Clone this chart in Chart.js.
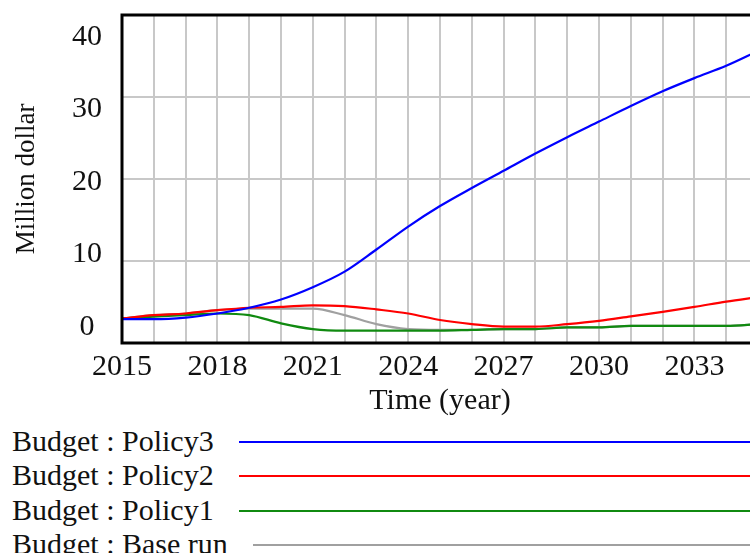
<!DOCTYPE html>
<html>
<head>
<meta charset="utf-8">
<script src="https://cdn.jsdelivr.net/npm/chart.js@4/dist/chart.umd.min.js"></script>
<style>
  html, body { margin: 0; padding: 0; background: #fff; }
  body { width: 750px; height: 553px; overflow: hidden; position: relative; font-family: "Liberation Serif", "Times New Roman", serif; }
  #wrap { position: absolute; left: 0; top: 0; width: 775px; height: 424px; }
  #legend { position: absolute; left: 12px; top: 424px; width: 738px; }
  .row { display: flex; align-items: center; height: 34.3px; font-size: 30px; color: #111; white-space: nowrap; }
  .row .sw { flex: 1; margin-left: 25px; height: 0; border-top: 2px solid; margin-top: 2px; }
</style>
</head>
<body>
<div id="wrap"><canvas id="c" width="775" height="424"></canvas></div>
<div id="legend"></div>
<script>
const years = [2015,2016,2017,2018,2019,2020,2021,2022,2023,2024,2025,2026,2027,2028,2029,2030,2031,2032,2033,2034,2035];
const seriesNames = ["Budget : Policy3", "Budget : Policy2", "Budget : Policy1", "Budget : Base run"];
const policy3 = [2.9,2.9,3.1,3.6,4.3,5.3,6.8,8.7,11.4,14.2,16.7,18.9,21.0,23.1,25.1,27.0,28.9,30.7,32.3,33.8,35.6];
const policy2 = [3.0,3.4,3.6,4.0,4.3,4.4,4.6,4.5,4.1,3.6,2.8,2.3,2.0,2.0,2.3,2.7,3.25,3.8,4.4,5.05,5.6];
const policy1 = [3.0,3.2,3.4,3.6,3.4,2.4,1.7,1.5,1.5,1.5,1.5,1.6,1.7,1.7,1.9,1.9,2.1,2.1,2.1,2.1,2.3];
const baseRun = [3.0,3.4,3.6,4.0,4.2,4.2,4.2,3.4,2.3,1.7,1.6,1.6,1.7,1.7,1.9,1.9,2.1,2.1,2.1,2.1,2.3];
const yTickValues = [0,10,20,30,40];
const xLabelStep = 3;

const colors = ["#0000ff", "#ff0000", "#108a10", "#a0a0a0"];
const allSeries = [policy3, policy2, policy1, baseRun];

const datasets = allSeries.map((vals, i) => ({
  label: seriesNames[i],
  data: vals.map((v, k) => ({x: years[k], y: v})),
  borderColor: colors[i],
  backgroundColor: colors[i],
  borderWidth: 2.2,
  pointRadius: 0,
  cubicInterpolationMode: 'monotone',
  yAxisID: 'y'
}));

const frame = {
  id: 'frame',
  afterDatasetsDraw(chart) {
    const a = chart.chartArea, ctx = chart.ctx;
    ctx.save();
    ctx.strokeStyle = '#000';
    ctx.lineWidth = 3;
    ctx.beginPath();
    ctx.moveTo(a.left, a.bottom);
    ctx.lineTo(a.left, a.top);
    ctx.lineTo(a.right, a.top);
    ctx.moveTo(a.left - 1.5, a.bottom);
    ctx.lineTo(a.right, a.bottom);
    ctx.stroke();
    ctx.restore();
  }
};

const font = "'Liberation Serif', 'Times New Roman', serif";
const noPad = (s) => { s.paddingTop = 0; s.paddingBottom = 0; s.paddingLeft = 0; s.paddingRight = 0; };

new Chart(document.getElementById('c'), {
  type: 'line',
  data: { datasets },
  plugins: [frame],
  options: {
    responsive: false,
    animation: false,
    layout: { padding: { left: 0, right: 17, top: 15, bottom: 0 } },
    plugins: { legend: { display: false }, tooltip: { enabled: false } },
    scales: {
      x: {
        type: 'linear',
        min: years[0],
        max: years[years.length - 1],
        afterFit(s) { s.height = 81; noPad(s); },
        grid: { color: '#c8c8c8', lineWidth: 2, drawTicks: false },
        border: { display: false },
        ticks: {
          stepSize: 1,
          autoSkip: false,
          maxRotation: 0,
          padding: 6,
          color: '#111',
          font: { family: font, size: 30 },
          callback: (v) => ((v - years[0]) % xLabelStep === 0 ? String(v) : '')
        },
        title: { display: true, text: 'Time (year)', color: '#111', font: { family: font, size: 30 }, padding: { top: 0, bottom: 5 } }
      },
      y: {
        type: 'linear',
        position: 'left',
        weight: 0,
        min: 0,
        max: 40,
        afterFit(s) { s.width = 0; noPad(s); },
        grid: { color: '#c8c8c8', lineWidth: 2, drawTicks: false },
        border: { display: false },
        ticks: { display: false, stepSize: 10 }
      },
      yLabels: {
        type: 'linear',
        position: 'left',
        weight: 1,
        min: -2.2,
        max: 43.0,
        afterFit(s) { s.width = 122; noPad(s); },
        afterBuildTicks(s) { s.ticks = yTickValues.map(v => ({ value: v })); },
        grid: { display: false, drawTicks: false },
        border: { display: false },
        ticks: { crossAlign: 'center', padding: 20, color: '#111', font: { family: font, size: 30 }, callback: v => String(v) },
        title: { display: true, text: 'Million dollar', color: '#111', font: { family: font, size: 27 }, padding: { top: 11, bottom: 0 } }
      }
    }
  }
});

const legend = document.getElementById('legend');
seriesNames.forEach((name, i) => {
  const row = document.createElement('div');
  row.className = 'row';
  const t = document.createElement('span');
  t.textContent = name;
  const sw = document.createElement('span');
  sw.className = 'sw';
  sw.style.borderTopColor = colors[i];
  row.appendChild(t);
  row.appendChild(sw);
  legend.appendChild(row);
});
</script>
</body>
</html>
